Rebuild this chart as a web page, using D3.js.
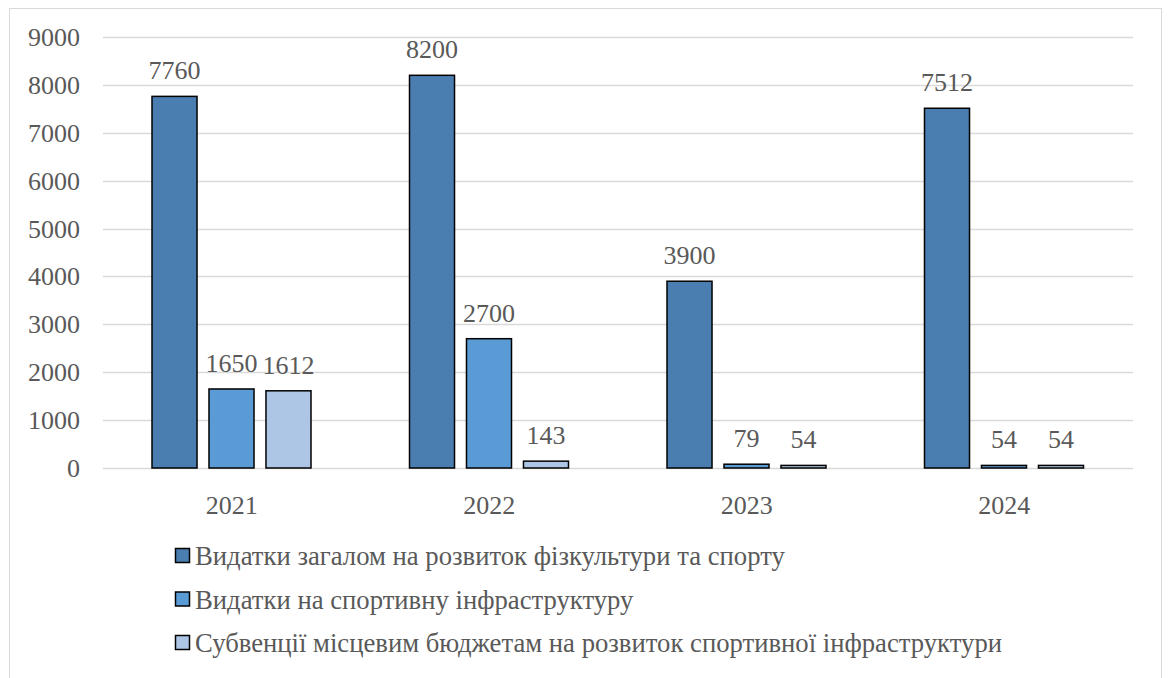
<!DOCTYPE html>
<html>
<head>
<meta charset="utf-8">
<script src="https://cdn.jsdelivr.net/npm/d3@7"></script>
<style>
  body { margin: 0; background: #fff; }
  text { font-family: "Liberation Serif", "Times New Roman", serif; fill: #595959; }
</style>
</head>
<body>
<div id="chart"></div>
<script>
// data
var years = ["2021", "2022", "2023", "2024"];
var seriesNames = [
  "Видатки загалом на розвиток фізкультури та спорту",
  "Видатки на спортивну інфраструктуру",
  "Субвенції місцевим бюджетам на розвиток спортивної інфраструктури"
];
var totalSpend = [7760, 8200, 3900, 7512];
var infraSpend = [1650, 2700, 79, 54];
var subventions = [1612, 143, 54, 54];
var yTicks = [0, 1000, 2000, 3000, 4000, 5000, 6000, 7000, 8000, 9000];
var colors = ["#4a7eb0", "#5b9bd5", "#adc6e5"];

var W = 1168, H = 678;
var svg = d3.select("#chart").append("svg")
  .attr("width", W).attr("height", H);

// chart border
svg.append("rect")
  .attr("x", 9.5).attr("y", 8.5)
  .attr("width", 1152).attr("height", 700)
  .attr("fill", "none").attr("stroke", "#d9d9d9");

var pLeft = 103, pRight = 1133, pTop = 37, pBottom = 468;

var x = d3.scaleBand().domain(years).range([pLeft, pRight]);
var x1 = d3.scaleBand().domain([0, 1, 2]).range([49, 208]).paddingInner(0.21);
var y = d3.scaleLinear().domain([0, 9000]).range([pBottom, pTop]);

// gridlines
svg.selectAll(".grid").data(yTicks).enter().append("line")
  .attr("x1", pLeft).attr("x2", pRight)
  .attr("y1", function(d){ return Math.round(y(d)) + 0.5; })
  .attr("y2", function(d){ return Math.round(y(d)) + 0.5; })
  .attr("stroke", "#d9d9d9").attr("stroke-width", 1.5);

// y axis labels
svg.selectAll(".ytick").data(yTicks).enter().append("text")
  .attr("x", 80).attr("y", function(d){ return y(d) + 9; })
  .attr("text-anchor", "end")
  .style("font-size", "26px")
  .text(function(d){ return d; });

// x labels
svg.selectAll(".xtick").data(years).enter().append("text")
  .attr("x", function(d){ return x(d) + x.bandwidth()/2; })
  .attr("y", 514)
  .attr("text-anchor", "middle")
  .style("font-size", "26px")
  .text(function(d){ return d; });

var series = [totalSpend, infraSpend, subventions];
var rows = [];
years.forEach(function(yr, i){
  series.forEach(function(s, j){
    rows.push({ year: yr, k: j, v: s[i] });
  });
});

svg.selectAll(".bar").data(rows).enter().append("rect")
  .attr("x", function(d){ return x(d.year) + x1(d.k); })
  .attr("y", function(d){ return y(d.v); })
  .attr("width", x1.bandwidth())
  .attr("height", function(d){ return pBottom - y(d.v); })
  .attr("fill", function(d){ return colors[d.k]; })
  .attr("stroke", "#000").attr("stroke-width", 1.5);

svg.selectAll(".lbl").data(rows).enter().append("text")
  .attr("x", function(d){ return x(d.year) + x1(d.k) + x1.bandwidth()/2; })
  .attr("y", function(d){ return y(d.v) - 17; })
  .attr("text-anchor", "middle")
  .style("font-size", "26px")
  .text(function(d){ return d.v; });

// legend
var leg = svg.selectAll(".leg").data(seriesNames).enter().append("g")
  .attr("transform", function(d, i){ return "translate(175," + (565 + i*43.5) + ")"; });
leg.append("rect")
  .attr("x", 0.5).attr("y", -16.5).attr("width", 14).attr("height", 14)
  .attr("fill", function(d, i){ return colors[i]; })
  .attr("stroke", "#000").attr("stroke-width", 1.5);
leg.append("text")
  .attr("x", 20).attr("y", 0)
  .style("font-size", "26.7px")
  .text(function(d){ return d; });
</script>
</body>
</html>
